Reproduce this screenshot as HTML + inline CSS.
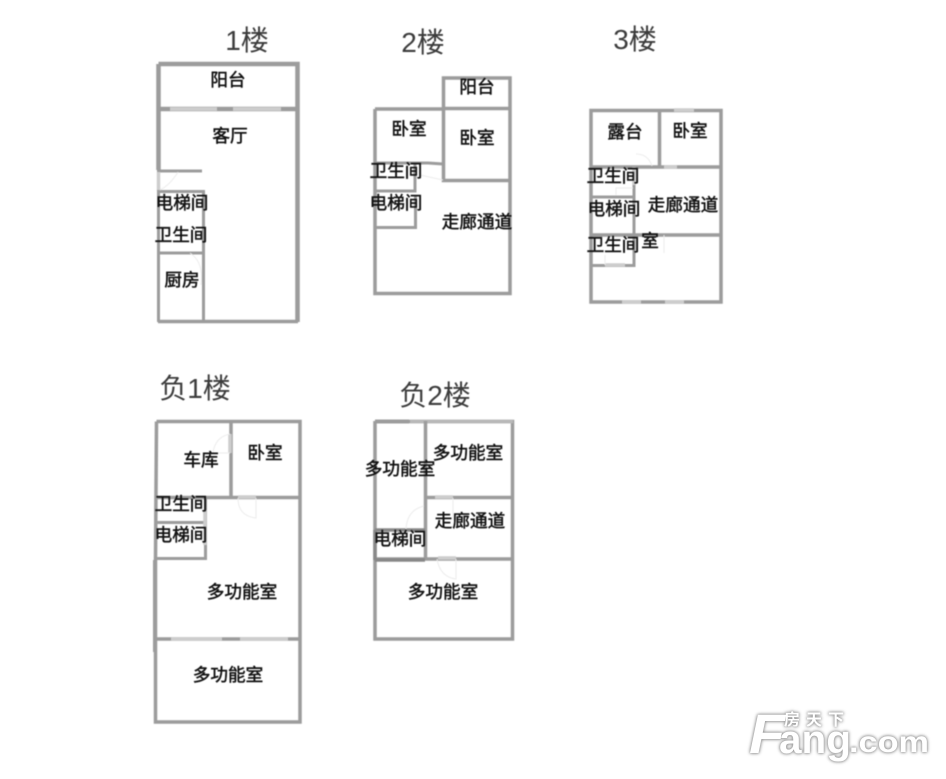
<!DOCTYPE html>
<html lang="zh">
<head>
<meta charset="utf-8">
<style>
html,body{margin:0;padding:0;background:#fff;width:946px;height:779px;overflow:hidden}
svg{display:block}
.plan{filter:blur(.4px)}
text{font-family:"Liberation Sans","Noto Sans CJK SC",sans-serif}
.t{font-size:28px;fill:#3c3c3c;text-anchor:middle}
.l{font-size:17.6px;fill:#111;text-anchor:middle;stroke:#111;stroke-width:.5px}
.w{fill:none;stroke:#9c9c9c;stroke-width:3.5}
.n{fill:none;stroke:#9c9c9c;stroke-width:3}
.g{fill:none;stroke:#cdcdcd;stroke-width:3.500}
.d{fill:none;stroke:#ececec;stroke-width:1}
.wm{filter:drop-shadow(0 0 1.5px #8f8f8f) drop-shadow(0 0 1px #b0b0b0)}
.logo{font-weight:bold;fill:#fff}
</style>
</head>
<body>
<svg width="946" height="779" viewBox="0 0 946 779" xmlns="http://www.w3.org/2000/svg">
<g class="plan">
<text class="t" x="247" y="50">1楼</text>
<text class="t" x="423" y="52">2楼</text>
<text class="t" x="635" y="49">3楼</text>
<text class="t" x="195" y="398">负1楼</text>
<text class="t" x="435" y="405">负2楼</text>

<!-- 1F -->
<path class="w" style="stroke-width:4.500" d="M158.500 64H297.500V322"/>
<path class="w" style="stroke-width:4.500" d="M158.500 64V170"/>
<path class="w" d="M158 321.500H298"/>
<path class="n" d="M158.500 191V322"/>
<path class="w" style="stroke-width:4.500" d="M158 109H298"/>
<path class="g" d="M170 109H217M233 109H281"/>
<path class="n" d="M157 171H202"/>
<path class="g" d="M158.500 172V191"/>
<path class="n" d="M157 191.500H203.500V322M157 253H204"/>
<path class="d" d="M160 190Q170 185 178 172M190 253Q204 262 201 285"/>

<!-- 2F -->
<path class="w" d="M375 109V293.500H510V78H443.500V180.500H510"/>
<path class="w" d="M375 109H443M443 108.500H510"/>
<path class="n" d="M375 163H428L443 164M375 191H415V163M375 227.500H415.500V196"/>
<path class="d" d="M420 175L443 180"/>

<!-- 3F -->
<path class="w" d="M591 110.500H721V302H591Z"/>
<path class="w" d="M659.500 110V167M591 167H721M591 235H721"/>
<path class="g" d="M674 110H694M622 302H641M665 302H684M664 167H677"/>
<path class="n" d="M634 185V265.500H591M591 197H634"/>
<path class="g" d="M634 167V185M605 265H625"/>
<path class="d" d="M636 154Q648 154 652 166M616 195V188H633M664 235V253M605 265V255"/>

<!-- -1F -->
<path class="w" d="M156.500 421.500H300V722H155.500V560L156.500 421.500"/>
<path class="n" d="M154.500 560V652"/>
<path class="w" d="M231 421V497M156 497.500H300M156 639H300"/>
<path class="g" d="M171 639H222M240 639H288M238 497H256M230 434V453"/>
<path class="n" d="M156 522.500H205M156 558.500H205.500V498"/>
<path class="g" d="M205 510V545"/>
<path class="d" d="M230 434Q215 437 213 453H230M238 498Q238 516 256 518V498"/>

<!-- -2F -->
<path class="w" d="M375 421.500H512.500V639H375V421"/>
<path class="w" style="stroke:#b8b8b8" d="M410 421.500H513"/>
<path class="w" d="M425.500 421V560M425 497.500H513M375 559H513"/>
<path class="w" style="stroke-width:4" d="M375 421.500H409"/>
<path class="w" style="stroke:#888;stroke-width:3.500" d="M375 530H425M375 530V560M375 560H425"/>
<path class="g" d="M435 497H453M438 558H456"/>
<path class="d" d="M406 529Q407 510 424 506M453 498V520M456 559V579Q440 577 437 559"/>

<!-- Labels -->
<g class="l">
<text x="228" y="86">阳台</text>
<text x="230" y="142">客厅</text>
<text x="182" y="209">电梯间</text>
<text x="181" y="241">卫生间</text>
<text x="182" y="286">厨房</text>

<text x="477" y="93">阳台</text>
<text x="409" y="135">卧室</text>
<text x="477" y="144">卧室</text>
<text x="396" y="177">卫生间</text>
<text x="396" y="209">电梯间</text>
<text x="477" y="228">走廊通道</text>

<text x="625" y="138">露台</text>
<text x="690" y="137">卧室</text>
<text x="613" y="182">卫生间</text>
<text x="614" y="215">电梯间</text>
<text x="683" y="211">走廊通道</text>
<text x="650" y="247">室</text>
<text x="613" y="251">卫生间</text>

<text x="201" y="466">车库</text>
<text x="265" y="459">卧室</text>
<text x="181" y="510">卫生间</text>
<text x="181" y="541">电梯间</text>
<text x="242" y="598">多功能室</text>
<text x="228" y="681">多功能室</text>

<text x="468" y="459">多功能室</text>
<text x="400" y="475">多功能室</text>
<text x="470" y="527">走廊通道</text>
<text x="400" y="545">电梯间</text>
<text x="443" y="598">多功能室</text>
</g>
</g>

<!-- Watermark -->
<g class="wm">
<text class="logo" x="749" y="753" font-size="56" textLength="36" lengthAdjust="spacingAndGlyphs" style="font-style:italic">F</text>
<text class="logo" x="779" y="753" font-size="40" textLength="72" lengthAdjust="spacingAndGlyphs">ang</text>
<text class="logo" x="849" y="752" font-size="30" textLength="80" lengthAdjust="spacingAndGlyphs">.com</text>
<text class="logo" x="784" y="725" font-size="16" textLength="60">房天下</text>
</g>
</svg>
</body>
</html>
